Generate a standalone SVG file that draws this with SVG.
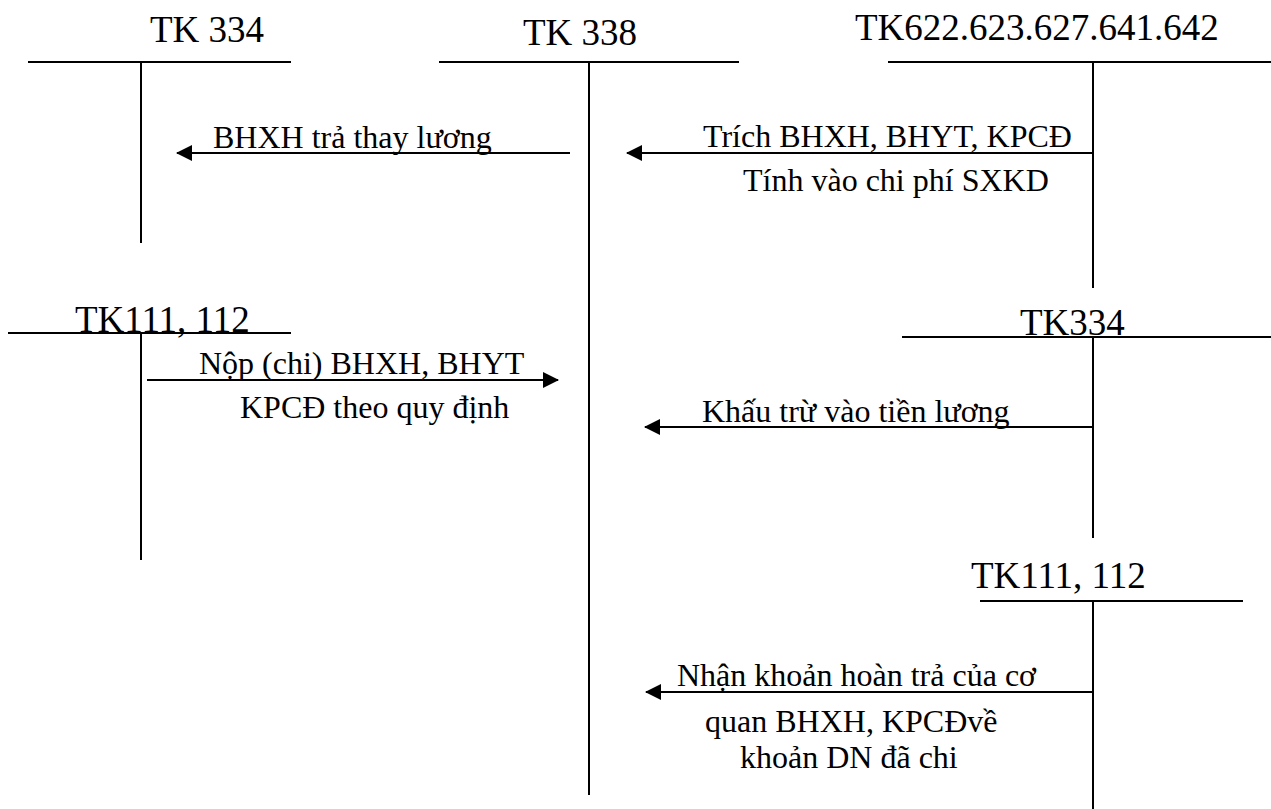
<svg xmlns="http://www.w3.org/2000/svg" width="1271" height="809" viewBox="0 0 1271 809">
<style>
  .ln { stroke: #000; stroke-width: 2; fill: none; }
  .ar { stroke: #000; stroke-width: 2.2; fill: none; marker-end: url(#ah); }
  .ttl { font-family: "Liberation Serif", "Times New Roman", serif; font-size: 37px; fill: #000; }
  .lbl { font-family: "Liberation Serif", "Times New Roman", serif; font-size: 32px; fill: #000; }
</style>
<defs>
  <marker id="ah" markerWidth="16" markerHeight="16" refX="15" refY="8" orient="auto" markerUnits="userSpaceOnUse">
    <path d="M0,0 L16,8 L0,16 Z" fill="#000"/>
  </marker>
</defs>
<rect width="1271" height="809" fill="#fff"/>

<g id="tk334-top">
  <text class="ttl" x="150" y="42">TK 334</text>
  <line class="ln" x1="28" y1="62" x2="291" y2="62"/>
  <line class="ln" x1="141" y1="62" x2="141" y2="243"/>
</g>
<g id="tk338">
  <text class="ttl" x="523" y="45">TK 338</text>
  <line class="ln" x1="439" y1="62" x2="739" y2="62"/>
  <line class="ln" x1="589" y1="62" x2="589" y2="795"/>
</g>
<g id="tk622">
  <text class="ttl" x="855" y="40">TK622.623.627.641.642</text>
  <line class="ln" x1="888" y1="62" x2="1271" y2="62"/>
  <line class="ln" x1="1093" y1="62" x2="1093" y2="288"/>
</g>
<g id="tk111-left">
  <text class="ttl" x="75" y="332">TK111, 112</text>
  <line class="ln" x1="8" y1="333" x2="291" y2="333"/>
  <line class="ln" x1="141" y1="333" x2="141" y2="560"/>
</g>
<g id="tk334-right">
  <text class="ttl" x="1020" y="335">TK334</text>
  <line class="ln" x1="902" y1="337" x2="1271" y2="337"/>
  <line class="ln" x1="1093" y1="337" x2="1093" y2="538"/>
</g>
<g id="tk111-right">
  <text class="ttl" x="971" y="588">TK111, 112</text>
  <line class="ln" x1="980" y1="601" x2="1243" y2="601"/>
  <line class="ln" x1="1093" y1="601" x2="1093" y2="809"/>
</g>

<g id="connectors">
  <line class="ar" x1="570" y1="153" x2="177" y2="153"/>
  <text class="lbl" x="213" y="148">BHXH trả thay lương</text>

  <line class="ar" x1="1093" y1="153" x2="627" y2="153"/>
  <text class="lbl" x="703" y="147">Trích BHXH, BHYT, KPCĐ</text>
  <text class="lbl" x="743" y="191">Tính vào chi phí SXKD</text>

  <line class="ar" x1="147" y1="380" x2="558" y2="380"/>
  <text class="lbl" x="199" y="374">Nộp (chi) BHXH, BHYT</text>
  <text class="lbl" x="240" y="418">KPCĐ theo quy định</text>

  <line class="ar" x1="1093" y1="427" x2="645" y2="427"/>
  <text class="lbl" x="702" y="422">Khấu trừ vào tiền lương</text>

  <line class="ar" x1="1093" y1="692" x2="646" y2="692"/>
  <text class="lbl" x="677" y="686">Nhận khoản hoàn trả của cơ</text>
  <text class="lbl" x="705" y="732">quan BHXH, KPCĐvề</text>
  <text class="lbl" x="740" y="768">khoản DN đã chi</text>
</g>
</svg>
